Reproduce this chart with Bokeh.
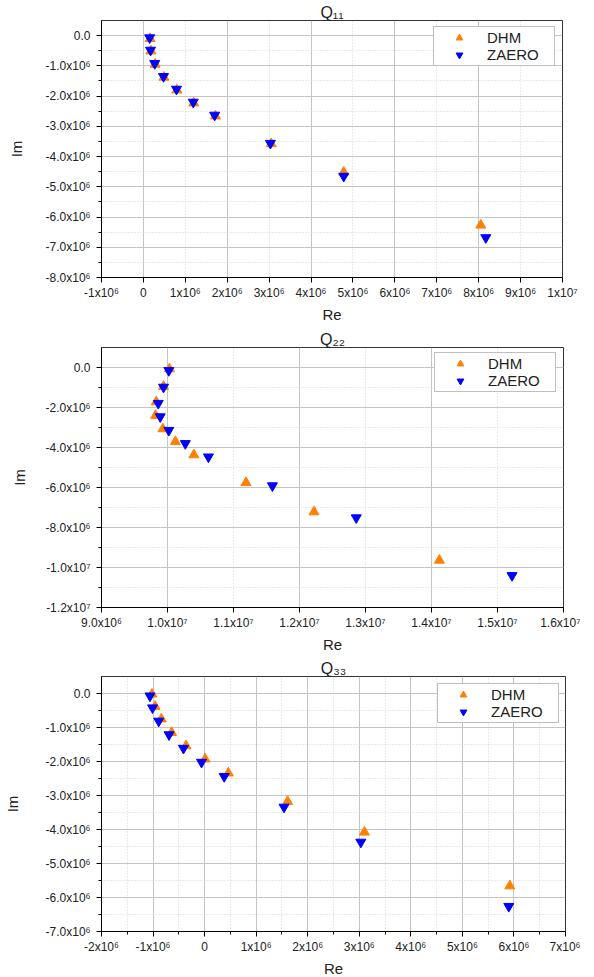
from bokeh.plotting import figure
from bokeh.models import FixedTicker, Grid, Legend, LegendItem
from bokeh.layouts import column
from bokeh.embed import file_html
from bokeh.resources import INLINE

FONT = "Liberation Sans"
ORANGE = "#FF8000"
BLUE = "#0000FF"

# ---------------- Q11 ----------------
q11_dhm_re = [0.16e6, 0.18e6, 0.28e6, 0.49e6, 0.80e6, 1.20e6, 1.72e6, 3.05e6, 4.78e6, 8.05e6]
q11_dhm_im = [-0.10e6, -0.51e6, -0.95e6, -1.38e6, -1.80e6, -2.23e6, -2.66e6, -3.58e6, -4.52e6, -6.27e6]
q11_zaero_re = [0.15e6, 0.17e6, 0.27e6, 0.48e6, 0.79e6, 1.19e6, 1.70e6, 3.03e6, 4.78e6, 8.17e6]
q11_zaero_im = [-0.07e6, -0.48e6, -0.92e6, -1.35e6, -1.77e6, -2.20e6, -2.63e6, -3.56e6, -4.65e6, -6.68e6]
q11_xticks = [-1000000, 0, 1000000, 2000000, 3000000, 4000000, 5000000, 6000000, 7000000, 8000000, 9000000, 10000000]
q11_xlabels = ["-1x10⁶", "0", "1x10⁶", "2x10⁶", "3x10⁶", "4x10⁶", "5x10⁶", "6x10⁶", "7x10⁶", "8x10⁶", "9x10⁶", "1x10⁷"]
q11_yticks = [0, -1000000, -2000000, -3000000, -4000000, -5000000, -6000000, -7000000, -8000000]
q11_ylabels = ["0.0", "-1.0x10⁶", "-2.0x10⁶", "-3.0x10⁶", "-4.0x10⁶", "-5.0x10⁶", "-6.0x10⁶", "-7.0x10⁶", "-8.0x10⁶"]
q11_yminor = [-500000, -1500000, -2500000, -3500000, -4500000, -5500000, -6500000, -7500000]
q11_xgrid_solid = [0, 2000000, 4000000, 6000000, 8000000]
q11_xgrid_dot = [1000000, 3000000, 5000000, 7000000, 9000000]

# ---------------- Q22 ----------------
q22_dhm_re = [10.03e6, 9.94e6, 9.83e6, 9.82e6, 9.93e6, 10.12e6, 10.40e6, 11.19e6, 12.22e6, 14.12e6]
q22_dhm_im = [-0.07e6, -0.95e6, -1.72e6, -2.40e6, -3.07e6, -3.71e6, -4.37e6, -5.76e6, -7.22e6, -9.64e6]
q22_zaero_re = [10.02e6, 9.94e6, 9.86e6, 9.89e6, 10.02e6, 10.27e6, 10.62e6, 11.59e6, 12.86e6, 15.22e6]
q22_zaero_im = [-0.15e6, -0.98e6, -1.79e6, -2.46e6, -3.14e6, -3.80e6, -4.47e6, -5.91e6, -7.51e6, -10.40e6]
q22_xticks = [9000000, 10000000, 11000000, 12000000, 13000000, 14000000, 15000000, 16000000]
q22_xlabels = ["9.0x10⁶", "1.0x10⁷", "1.1x10⁷", "1.2x10⁷", "1.3x10⁷", "1.4x10⁷", "1.5x10⁷", "1.6x10⁷"]
q22_yticks = [0, -2000000, -4000000, -6000000, -8000000, -10000000, -12000000]
q22_ylabels = ["0.0", "-2.0x10⁶", "-4.0x10⁶", "-6.0x10⁶", "-8.0x10⁶", "-1.0x10⁷", "-1.2x10⁷"]
q22_yminor = [-1000000, -3000000, -5000000, -7000000, -9000000, -11000000]
q22_xgrid_solid = [10000000, 12000000, 14000000]
q22_xgrid_dot = [11000000, 13000000, 15000000]

# ---------------- Q33 ----------------
q33_dhm_re = [-1.02e6, -0.96e6, -0.84e6, -0.64e6, -0.36e6, 0.01e6, 0.46e6, 1.61e6, 3.10e6, 5.92e6]
q33_dhm_im = [-0.02e6, -0.38e6, -0.75e6, -1.15e6, -1.54e6, -1.93e6, -2.34e6, -3.18e6, -4.08e6, -5.66e6]
q33_zaero_re = [-1.06e6, -1.01e6, -0.89e6, -0.69e6, -0.41e6, -0.06e6, 0.38e6, 1.54e6, 3.03e6, 5.90e6]
q33_zaero_im = [-0.07e6, -0.42e6, -0.81e6, -1.21e6, -1.61e6, -2.02e6, -2.44e6, -3.34e6, -4.37e6, -6.26e6]
q33_xticks = [-2000000, -1000000, 0, 1000000, 2000000, 3000000, 4000000, 5000000, 6000000, 7000000]
q33_xlabels = ["-2x10⁶", "-1x10⁶", "0", "1x10⁶", "2x10⁶", "3x10⁶", "4x10⁶", "5x10⁶", "6x10⁶", "7x10⁶"]
q33_xminor = [-1500000, -500000, 500000, 1500000, 2500000, 3500000, 4500000, 5500000, 6500000]
q33_yticks = [0, -1000000, -2000000, -3000000, -4000000, -5000000, -6000000, -7000000]
q33_ylabels = ["0.0", "-1.0x10⁶", "-2.0x10⁶", "-3.0x10⁶", "-4.0x10⁶", "-5.0x10⁶", "-6.0x10⁶", "-7.0x10⁶"]
q33_yminor = [-500000, -1500000, -2500000, -3500000, -4500000, -5500000, -6500000]

series_names = ["DHM", "ZAERO"]


def style_axis(ax, ticks, labels, minor):
    ax.ticker = FixedTicker(ticks=ticks, minor_ticks=minor)
    ax.major_label_overrides = dict(zip(ticks, labels))
    ax.major_label_text_font = FONT
    ax.major_label_text_font_size = "12px"
    ax.major_label_text_color = "#222222"
    ax.axis_label_text_font = FONT
    ax.axis_label_text_font_size = "15px"
    ax.axis_label_text_font_style = "normal"
    ax.axis_label_text_color = "#222222"
    ax.axis_line_color = "black"
    ax.major_tick_line_color = "black"
    ax.minor_tick_line_color = "black"
    ax.major_tick_out = 5
    ax.major_tick_in = 0
    ax.minor_tick_out = 3
    ax.minor_tick_in = 0


def add_grid(p, dim, solid, dot):
    if solid:
        p.add_layout(Grid(dimension=dim, ticker=FixedTicker(ticks=solid),
                          grid_line_color="#c4c4c4", grid_line_width=1))
    if dot:
        p.add_layout(Grid(dimension=dim, ticker=FixedTicker(ticks=dot),
                          grid_line_color="#d4d4d4", grid_line_width=1,
                          grid_line_dash="1 2"))


def make_panel(title, xr, yr, xt, xl, xminor, yt, yl, yminor,
               xsolid, xdot, ysolid, ydot,
               d_re, d_im, z_re, z_im,
               fw, fh, bl, br, bt, bb, leg_loc, ylab_standoff):
    p = figure(x_range=xr, y_range=yr, frame_width=fw, frame_height=fh,
               min_border_left=bl, min_border_right=br,
               min_border_top=bt, min_border_bottom=bb,
               output_backend="svg", toolbar_location=None,
               background_fill_color="white", border_fill_color="white")
    p.title.text = title
    p.title.align = "center"
    p.title.text_font = FONT
    p.title.text_font_size = "16px"
    p.title.text_font_style = "normal"
    p.title.text_color = "#222222"
    p.title.standoff = 0
    p.outline_line_color = "#333333"
    p.outline_line_width = 1
    p.xgrid.visible = False
    p.ygrid.visible = False
    add_grid(p, 0, xsolid, xdot)
    add_grid(p, 1, ysolid, ydot)

    style_axis(p.xaxis[0], xt, xl, xminor)
    style_axis(p.yaxis[0], yt, yl, yminor)
    p.xaxis.axis_label = "Re"
    p.yaxis.axis_label = "Im"
    p.xaxis.major_label_standoff = 3
    p.xaxis.axis_label_standoff = 3
    p.yaxis.major_label_standoff = 6
    p.yaxis.axis_label_standoff = ylab_standoff

    r1 = p.scatter(d_re, d_im, marker="triangle", size=10,
                   fill_color=ORANGE, line_color=ORANGE)
    r2 = p.scatter(z_re, z_im, marker="inverted_triangle", size=10,
                   fill_color=BLUE, line_color=BLUE)

    legend = Legend(items=[LegendItem(label=series_names[0], renderers=[r1]),
                           LegendItem(label=series_names[1], renderers=[r2])],
                    location=leg_loc, margin=0, padding=2, spacing=0,
                    glyph_width=46, glyph_height=17, label_height=17,
                    label_width=65, label_standoff=5,
                    label_text_font=FONT, label_text_font_size="15px",
                    label_text_color="#222222",
                    border_line_color="#808080", border_line_width=1,
                    background_fill_color="white", background_fill_alpha=1.0)
    p.add_layout(legend)
    return p


p1 = make_panel("Q₁₁", (-1e6, 1e7), (-8e6, 0.5e6),
                q11_xticks, q11_xlabels, [], q11_yticks, q11_ylabels, q11_yminor,
                q11_xgrid_solid, q11_xgrid_dot, q11_yticks, q11_yminor,
                q11_dhm_re, q11_dhm_im, q11_zaero_re, q11_zaero_im,
                461, 257, 95, 22, 20, 45, (332, 211), 18)

p2 = make_panel("Q₂₂", (9e6, 1.6e7), (-1.2e7, 1e6),
                q22_xticks, q22_xlabels, [], q22_yticks, q22_ylabels, q22_yminor,
                q22_xgrid_solid, q22_xgrid_dot, q22_yticks, q22_yminor,
                q22_dhm_re, q22_dhm_im, q22_zaero_re, q22_zaero_im,
                462, 260, 92, 24, 22, 39, (333, 215), 15)

p3 = make_panel("Q₃₃", (-2e6, 7e6), (-7e6, 0.5e6),
                q33_xticks, q33_xlabels, q33_xminor, q33_yticks, q33_ylabels, q33_yminor,
                q33_xticks, q33_xminor, q33_yticks, q33_yminor,
                q33_dhm_re, q33_dhm_im, q33_zaero_re, q33_zaero_im,
                464, 255, 99, 15, 21, 38, (336, 208), 22)

layout = column(p1, p2, p3, spacing=0)
open("out.html", "w").write(file_html(layout, INLINE))
